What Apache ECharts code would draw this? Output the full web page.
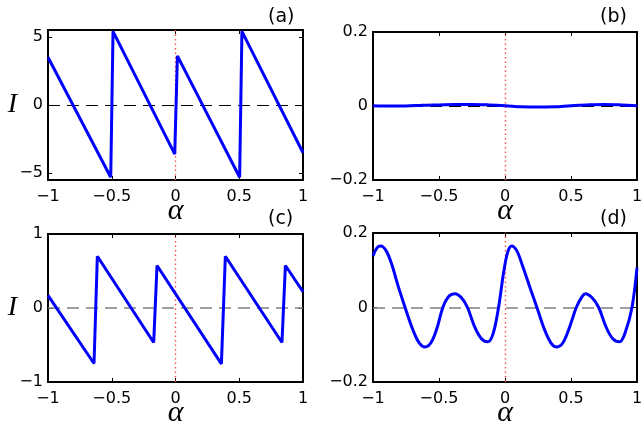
<!DOCTYPE html>
<html><head><meta charset="utf-8">
<script src="https://cdn.jsdelivr.net/npm/echarts@6/dist/echarts.min.js"></script>
<style>html,body{margin:0;padding:0;background:#fff}#c{width:644px;height:427px}</style>
</head><body><div id="c"></div>
<script>
// ---- data ----
const alphaTicks = [-1, -0.5, 0, 0.5, 1];
const panelLabels = ['(a)', '(b)', '(c)', '(d)'];

const alphaA   = [-1, -0.508, -0.49, -0.006, 0.015, 0.503, 0.521, 1];
const currentA = [3.5, -5.3, 5.4, -3.6, 3.6, -5.3, 5.4, -3.5];
const yTicksA  = [-5, 0, 5];

const alphaB   = [-1, -0.875, -0.75, -0.625, -0.5, -0.375, -0.25, -0.125, 0, 0.125, 0.25, 0.375, 0.5, 0.625, 0.75, 0.875, 1];
const currentB = [0.001, 0.000, 0.000, 0.002, 0.003, 0.004, 0.004, 0.003, 0.001, -0.002, -0.003, -0.002, 0.001, 0.003, 0.004, 0.003, 0.001];
const yTicksB  = [-0.2, 0, 0.2];

const alphaC   = [-1, -0.639, -0.613, -0.171, -0.145, 0.360, 0.391, 0.835, 0.862, 1];
const currentC = [0.17, -0.75, 0.70, -0.466, 0.574, -0.755, 0.70, -0.466, 0.574, 0.22];
const yTicksC  = [-1, 0, 1];

const alphaD   = [-1, -0.97, -0.94, -0.9, -0.86, -0.81, -0.757, -0.7, -0.65, -0.606, -0.56, -0.515, -0.471, -0.425, -0.378, -0.33, -0.284, -0.23, -0.18, -0.13, -0.09, -0.049, -0.01, 0.02, 0.05, 0.09, 0.13, 0.185, 0.242, 0.3, 0.35, 0.393, 0.44, 0.49, 0.54, 0.585, 0.61, 0.66, 0.71, 0.765, 0.815, 0.869, 0.91, 0.962, 1];
const currentD = [0.138, 0.16, 0.165, 0.152, 0.118, 0.058, 0, -0.058, -0.095, -0.106, -0.094, -0.055, 0, 0.03, 0.037, 0.026, 0, -0.052, -0.083, -0.092, -0.07, 0, 0.095, 0.148, 0.165, 0.152, 0.115, 0.058, 0, -0.06, -0.096, -0.106, -0.094, -0.052, 0, 0.03, 0.037, 0.026, 0, -0.052, -0.083, -0.092, -0.068, 0, 0.107];
const yTicksD  = [-0.2, 0, 0.2];

// ---- chart construction ----
const tickFont = {fontFamily: 'DejaVu Sans', fontSize: 16, color: '#000'};
const fmt = v => String(+v.toFixed(3)).replace('-', '\u2212');

const panels = [
  {grid: {left: 48, top: 30, width: 255, height: 150}, xs: alphaA, ys: currentA, yt: yTicksA, yMin: -5.5, yMax: 5.5, zero: '#000', smooth: false, yName: 'I', label: [268, 8]},
  {grid: {left: 373, top: 32, width: 264, height: 148}, xs: alphaB, ys: currentB, yt: yTicksB, yMin: -0.2, yMax: 0.2, zero: '#000', smooth: 0.35, yName: '', label: [600, 8]},
  {grid: {left: 48, top: 234, width: 255, height: 148}, xs: alphaC, ys: currentC, yt: yTicksC, yMin: -1, yMax: 1, zero: '#808080', smooth: false, yName: 'I', label: [268, 210]},
  {grid: {left: 373, top: 233, width: 264, height: 149}, xs: alphaD, ys: currentD, yt: yTicksD, yMin: -0.2, yMax: 0.2, zero: '#808080', smooth: 0.35, yName: '', label: [600, 210]}
];

const option = {animation: false, backgroundColor: '#fff', grid: [], xAxis: [], yAxis: [], series: [], title: []};
const lineAx = {show: true, onZero: false, lineStyle: {color: '#000', width: 2}};
const redStyle = {color: '#ff5050', width: 1.4, type: [1.5, 3], opacity: 1};
panels.forEach((p, i) => {
  option.grid.push(Object.assign({outerBoundsMode: 'none', containLabel: false}, p.grid));
  option.title.push({text: panelLabels[i], left: p.label[0], top: p.label[1], padding: 0,
    textStyle: {fontFamily: 'DejaVu Sans', fontSize: 19, fontWeight: 'normal', color: '#000'}});
  option.xAxis.push({type: 'value', gridIndex: i, position: 'bottom', min: -1, max: 1, interval: 0.5,
    axisLine: lineAx, splitLine: {show: false},
    axisTick: {show: true, inside: true, length: 4, lineStyle: {color: '#000', width: 1}},
    axisLabel: Object.assign({show: true, margin: 9, formatter: fmt, showMinLabel: true, showMaxLabel: true}, tickFont),
    name: '\u03b1', nameLocation: 'middle', nameGap: 16, nameMoveOverlap: false,
    nameTextStyle: {fontFamily: 'Liberation Serif', fontStyle: 'italic', fontSize: 30, color: '#000'}});
  option.xAxis.push({type: 'value', gridIndex: i, position: 'top', min: -1, max: 1, interval: 0.5,
    axisLine: lineAx, splitLine: {show: false}, axisLabel: {show: false},
    axisTick: {show: true, inside: true, length: 4, lineStyle: {color: '#000', width: 1}}});
  const yBase = {type: 'value', gridIndex: i, min: p.yMin, max: p.yMax, splitLine: {show: false}, axisLine: lineAx};
  option.yAxis.push(Object.assign({}, yBase, {position: 'left',
    axisTick: {show: true, inside: true, length: 4, customValues: p.yt, lineStyle: {color: '#000', width: 1}},
    axisLabel: Object.assign({show: true, margin: 5, formatter: fmt, customValues: p.yt, showMinLabel: true, showMaxLabel: true}, tickFont),
    name: p.yName, nameLocation: 'middle', nameRotate: 0, nameGap: 31, nameMoveOverlap: false,
    nameTextStyle: {fontFamily: 'Liberation Serif', fontStyle: 'italic', fontSize: 28, color: '#000'}}));
  option.yAxis.push(Object.assign({}, yBase, {position: 'right', axisLabel: {show: false},
    axisTick: {show: true, inside: true, length: 4, customValues: p.yt, lineStyle: {color: '#000', width: 1}}}));
  const pts = p.xs.map((a, k) => [a, p.ys[k]]);
  // dashed zero line
  const zs = {color: p.zero, width: p.zero === '#000' ? 1 : 1.5, type: [12, 7], opacity: 1};
  option.series.push({type: 'line', xAxisIndex: 2 * i, yAxisIndex: 2 * i, data: pts, z: 1,
    showSymbol: false, lineStyle: {width: 0, opacity: 0}, silent: true, color: p.zero,
    markLine: {silent: true, z: 1, symbol: 'none', label: {show: false}, animation: false,
      lineStyle: zs, data: [{yAxis: 0, lineStyle: zs}]}});
  // red dotted alpha = 0 line
  option.series.push({type: 'line', xAxisIndex: 2 * i, yAxisIndex: 2 * i, data: pts, z: 2,
    showSymbol: false, lineStyle: {width: 0, opacity: 0}, silent: true, color: '#ff5050',
    markLine: {silent: true, z: 2, symbol: 'none', label: {show: false}, animation: false,
      lineStyle: redStyle, data: [{xAxis: 0, lineStyle: redStyle}]}});
  option.series.push({type: 'line', xAxisIndex: 2 * i, yAxisIndex: 2 * i, data: pts, z: 6,
    showSymbol: false, smooth: p.smooth, lineStyle: {color: '#0000ff', width: 3}, silent: true});
});

const chart = echarts.init(document.getElementById('c'), null, {renderer: 'canvas'});
chart.setOption(option);
</script>
</body></html>
